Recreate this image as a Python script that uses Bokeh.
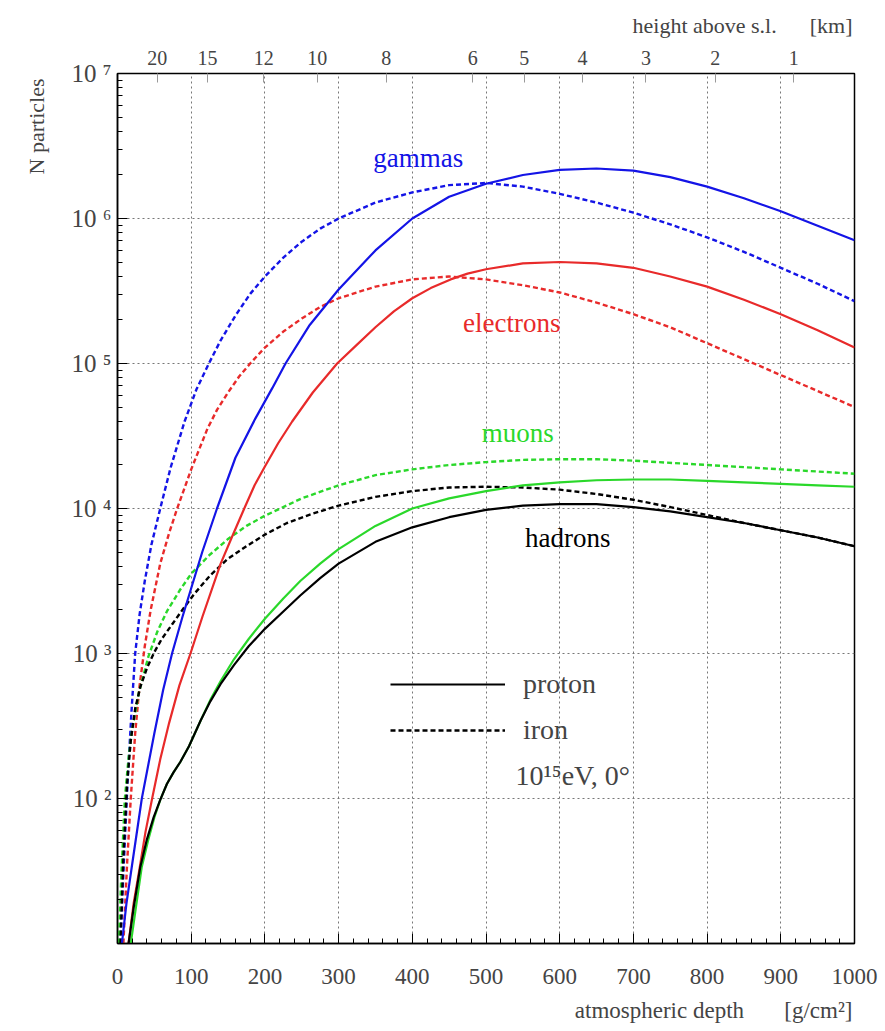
import numpy as np
from bokeh.plotting import figure
from bokeh.models import (Range1d, LinearAxis, FixedTicker, Label, Legend, LegendItem, Title)
from bokeh.embed import file_html
from bokeh.resources import INLINE

# ---------------- data: atmospheric depth [g/cm^2] and log10(N particles) ----------------
gam_p_d = [6, 12, 20, 33, 50, 62, 74, 88, 100, 115, 135, 160, 187, 210, 228, 260, 300, 350, 400, 450,
           500, 550, 600, 650, 700, 750, 800, 850, 900, 950, 1000]
gam_p_log = [1.0, 1.27, 1.55, 2.0, 2.45, 2.75, 3.0, 3.25, 3.45, 3.7, 4.0, 4.35, 4.62, 4.83, 5.0, 5.26, 5.51,
             5.78, 6.0, 6.15, 6.24, 6.3, 6.335, 6.345, 6.33, 6.285, 6.22, 6.14, 6.05, 5.95, 5.85]

gam_fe_d = [4, 9, 14, 19, 24, 30, 37, 46, 58, 72, 91, 107, 124, 140, 160, 180, 200, 225, 250, 275, 300,
            350, 400, 450, 500, 550, 600, 650, 700, 750, 800, 850, 900, 950, 1000]
gam_fe_log = [1.0, 1.6, 2.15, 2.6, 3.0, 3.27, 3.5, 3.75, 4.0, 4.28, 4.6, 4.82, 5.0, 5.16, 5.33, 5.48, 5.6,
              5.73, 5.84, 5.93, 6.0, 6.11, 6.18, 6.23, 6.245, 6.22, 6.17, 6.11, 6.04, 5.96, 5.87, 5.77,
              5.66, 5.55, 5.43]

ele_p_d = [15, 22, 30, 38, 47, 58, 70, 84, 99, 115, 140, 155, 172, 186, 200, 218, 237, 265, 298, 325, 350,
           375, 400, 425, 452, 475, 500, 550, 600, 650, 700, 750, 800, 850, 900, 950, 1000]
ele_p_log = [1.0, 1.28, 1.52, 1.77, 2.0, 2.27, 2.52, 2.78, 3.0, 3.25, 3.62, 3.8, 4.0, 4.16, 4.29, 4.45, 4.6,
             4.8, 5.0, 5.13, 5.25, 5.36, 5.45, 5.52, 5.58, 5.62, 5.65, 5.69, 5.70, 5.69, 5.66, 5.6, 5.53,
             5.44, 5.34, 5.23, 5.11]

ele_fe_d = [8, 13, 18, 24, 30, 37, 45, 58, 70, 81, 100, 122, 135, 150, 165, 180, 200, 225, 250, 275, 300,
            350, 400, 450, 500, 550, 600, 650, 700, 750, 800, 850, 900, 950, 1000]
ele_fe_log = [1.0, 1.55, 2.0, 2.45, 2.78, 3.05, 3.3, 3.62, 3.83, 4.0, 4.27, 4.55, 4.68, 4.8, 4.91, 5.0, 5.11,
              5.22, 5.31, 5.39, 5.45, 5.53, 5.58, 5.6, 5.58, 5.54, 5.49, 5.42, 5.34, 5.25, 5.14, 5.03,
              4.92, 4.81, 4.70]

muo_p_d = [18, 25, 33, 42, 50, 58, 67, 76, 85, 97, 105, 113, 126, 140, 158, 178, 200, 225, 248, 275, 300,
           350, 400, 450, 500, 550, 600, 650, 700, 750, 800, 850, 900, 950, 1000]
muo_p_log = [1.0, 1.25, 1.53, 1.72, 1.87, 1.99, 2.1, 2.18, 2.25, 2.36, 2.45, 2.54, 2.68, 2.81, 2.96, 3.1,
             3.24, 3.38, 3.5, 3.62, 3.72, 3.88, 4.0, 4.07, 4.12, 4.16, 4.18, 4.195, 4.2, 4.2, 4.19, 4.18,
             4.17, 4.16, 4.15]

muo_fe_d = [2, 5, 10, 15, 20, 29, 42, 54, 67, 85, 100, 125, 150, 175, 200, 250, 300, 350, 400, 450, 500,
            550, 600, 650, 700, 800, 900, 1000]
muo_fe_log = [1.0, 1.45, 2.0, 2.28, 2.48, 2.73, 2.98, 3.15, 3.29, 3.44, 3.55, 3.68, 3.79, 3.88, 3.95, 4.07,
              4.16, 4.23, 4.27, 4.3, 4.32, 4.335, 4.34, 4.34, 4.33, 4.3, 4.27, 4.24]

had_p_d = [15, 22, 31, 40, 49, 58, 67, 76, 85, 97, 105, 113, 126, 140, 158, 178, 200, 225, 248, 275, 300,
           350, 400, 450, 500, 550, 600, 650, 700, 750, 800, 850, 900, 950, 1000]
had_p_log = [1.0, 1.25, 1.53, 1.72, 1.87, 1.99, 2.1, 2.18, 2.25, 2.36, 2.45, 2.54, 2.67, 2.79, 2.92, 3.05,
             3.17, 3.29, 3.4, 3.52, 3.62, 3.77, 3.87, 3.94, 3.99, 4.02, 4.03, 4.03, 4.01, 3.98, 3.94, 3.9,
             3.85, 3.8, 3.74]

had_fe_d = [4, 8, 13, 18, 24, 31, 40, 50, 60, 74, 88, 104, 126, 149, 175, 200, 230, 262, 300, 350, 400,
            450, 500, 550, 600, 650, 700, 750, 800, 850, 900, 950, 1000]
had_fe_log = [1.0, 1.6, 2.1, 2.4, 2.62, 2.77, 2.9, 3.01, 3.1, 3.2, 3.3, 3.41, 3.54, 3.65, 3.74, 3.82, 3.9,
              3.96, 4.02, 4.08, 4.12, 4.145, 4.15, 4.145, 4.13, 4.1, 4.06, 4.01, 3.955, 3.9, 3.85, 3.8, 3.74]

x_ticks = [0, 100, 200, 300, 400, 500, 600, 700, 800, 900, 1000]
y_ticks = [1e2, 1e3, 1e4, 1e5, 1e6, 1e7]
y_tick_labels = ["10\u00a0²", "10\u00a0³", "10\u00a0⁴", "10\u00a0⁵", "10\u00a0⁶", "10\u00a0⁷"]
km_depths = [54, 122, 198.5, 271, 364.6, 482, 552, 631, 717, 811, 917.6]
km_labels = ["20", "15", "12", "10", "8", "6", "5", "4", "3", "2", "1"]

FONT = "Liberation Serif"
QFONT = "'Liberation Serif', 'Times New Roman', serif"
BLUE, RED, GREEN, BLACK = "#1414e6", "#e82a2a", "#2ad82a", "#000000"

p = figure(width=885, height=1031, x_range=Range1d(0, 1000), y_range=Range1d(10, 1e7),
           y_axis_type="log", output_backend="svg", toolbar_location=None,
           min_border_left=117, min_border_right=31, min_border_top=72, min_border_bottom=87)
p.background_fill_color = "white"
p.border_fill_color = "white"
p.outline_line_color = "black"
p.outline_line_width = 1.5

# x axis
xa = p.xaxis[0]
xa.ticker = FixedTicker(ticks=x_ticks, minor_ticks=list(range(0, 1001, 20)))
xa.major_tick_in = 10
xa.major_tick_out = 0
xa.minor_tick_in = 5
xa.minor_tick_out = 0
xa.major_label_text_font = QFONT
xa.major_label_text_font_size = "23px"
xa.major_label_standoff = 25
xa.axis_line_width = 1.5

# y axis
ya = p.yaxis[0]
minor_y = [k * 10.0 ** n for n in range(1, 7) for k in range(1, 10)]
ya.ticker = FixedTicker(ticks=y_ticks, minor_ticks=minor_y)
ya.major_label_overrides = {t: l for t, l in zip(y_ticks, y_tick_labels)}
ya.major_tick_in = 10
ya.major_tick_out = 0
ya.minor_tick_in = 5
ya.minor_tick_out = 0
ya.major_label_text_font = QFONT
ya.major_label_text_font_size = "25px"
ya.major_label_standoff = 6
ya.axis_line_width = 1.5

# top axis: height above sea level
ta = LinearAxis(ticker=FixedTicker(ticks=km_depths, minor_ticks=[]),
                major_label_overrides={d: l for d, l in zip(km_depths, km_labels)})
ta.major_tick_in = 9
ta.major_tick_out = 0
ta.major_tick_line_color = "#999999"
ta.axis_line_color = None
ta.minor_tick_line_color = None
ta.major_label_text_font = QFONT
ta.major_label_text_font_size = "20px"
ta.major_label_standoff = 9
p.add_layout(ta, "above")

# grids
p.xgrid.ticker = FixedTicker(ticks=x_ticks[1:-1])
p.ygrid.ticker = FixedTicker(ticks=y_ticks[:-1])
for g in (p.xgrid, p.ygrid):
    g.grid_line_color = "#777777"
    g.grid_line_dash = "2 3"
    g.grid_line_width = 1

# titles
p.title.text = "height above s.l.\u00a0\u00a0\u00a0\u00a0\u00a0\u00a0[km]"
p.title.align = "right"
p.title.text_font = QFONT
p.title.text_font_style = "normal"
p.title.text_font_size = "22px"
p.title.offset = 2
p.title.standoff = 20

bt = Title(text="atmospheric depth\u00a0\u00a0\u00a0\u00a0\u00a0\u00a0\u00a0[g/cm²]", align="right",
           text_font=QFONT, text_font_style="normal", text_font_size="23px", offset=2, standoff=18)
p.add_layout(bt, "below")
lt = Title(text="N particles", align="right", text_font=QFONT, text_font_style="normal",
           text_font_size="22px", offset=5, standoff=39)
p.add_layout(lt, "left")

# curves
SW, DW, DASH = 2.2, 2.4, "5 3"
def L(v):
    return np.power(10.0, np.array(v))

p.line(gam_fe_d, L(gam_fe_log), line_color=BLUE, line_width=DW, line_dash=DASH)
p.line(ele_fe_d, L(ele_fe_log), line_color=RED, line_width=DW, line_dash=DASH)
p.line(muo_fe_d, L(muo_fe_log), line_color=GREEN, line_width=DW, line_dash=DASH)
r_hi = p.line(had_fe_d, L(had_fe_log), line_color=BLACK, line_width=DW, line_dash=DASH)
p.line(gam_p_d, L(gam_p_log), line_color=BLUE, line_width=SW)
p.line(ele_p_d, L(ele_p_log), line_color=RED, line_width=SW)
p.line(muo_p_d, L(muo_p_log), line_color=GREEN, line_width=SW)
r_hp = p.line(had_p_d, L(had_p_log), line_color=BLACK, line_width=SW)

# curve labels
def lab(x, y, t, c):
    p.add_layout(Label(x=x, y=y, text=t, text_color=c, text_font=FONT, text_font_size="27px",
                       text_align="center", text_baseline="middle"))

lab(408, 2.6e6, "gammas", BLUE)
lab(535, 1.9e5, "electrons", RED)
lab(543, 3.3e4, "muons", GREEN)
lab(611, 6.3e3, "hadrons", BLACK)

# legend
leg = Legend(items=[LegendItem(label="proton", renderers=[r_hp]),
                    LegendItem(label="iron", renderers=[r_hi])],
             location=(273, 197), glyph_width=115, glyph_height=30, label_height=30,
             label_standoff=18, spacing=14, padding=0, margin=0,
             label_text_font=FONT, label_text_font_size="28px",
             border_line_alpha=0, background_fill_alpha=0)
p.add_layout(leg, "center")

p.add_layout(Label(x=540, y=145, text="10¹⁵eV, 0°", text_font=FONT, text_font_size="28px",
                   text_align="left", text_baseline="middle"))

open("out.html", "w").write(file_html(p, INLINE))
